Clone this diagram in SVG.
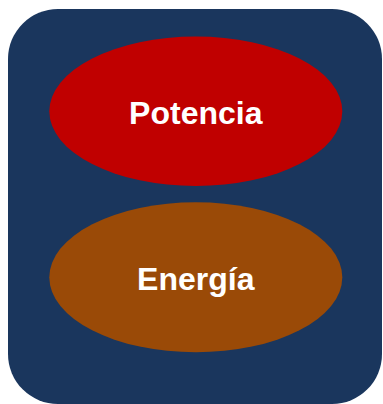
<svg xmlns="http://www.w3.org/2000/svg" width="383" height="404" viewBox="0 0 383 404">
<style>
.lbl{font-family:"Liberation Sans",Arial,sans-serif;font-weight:bold;font-size:32px;fill:#FFFFFF;text-anchor:middle}
</style>
<rect width="383" height="404" fill="#FFFFFF"/>
<g id="frame">
<rect x="8" y="9" width="374" height="395" rx="50" ry="50" fill="#1A365D"/>
</g>
<g id="potencia">
<ellipse cx="195.8" cy="111.3" rx="146.5" ry="74.7" fill="#C00000"/>
<text class="lbl" x="195.8" y="124">Potencia</text>
</g>
<g id="energia">
<ellipse cx="195.8" cy="277.3" rx="146.5" ry="75" fill="#9A4A07"/>
<text class="lbl" x="195.8" y="290">Energía</text>
</g>
<g id="connectors"></g>
</svg>
